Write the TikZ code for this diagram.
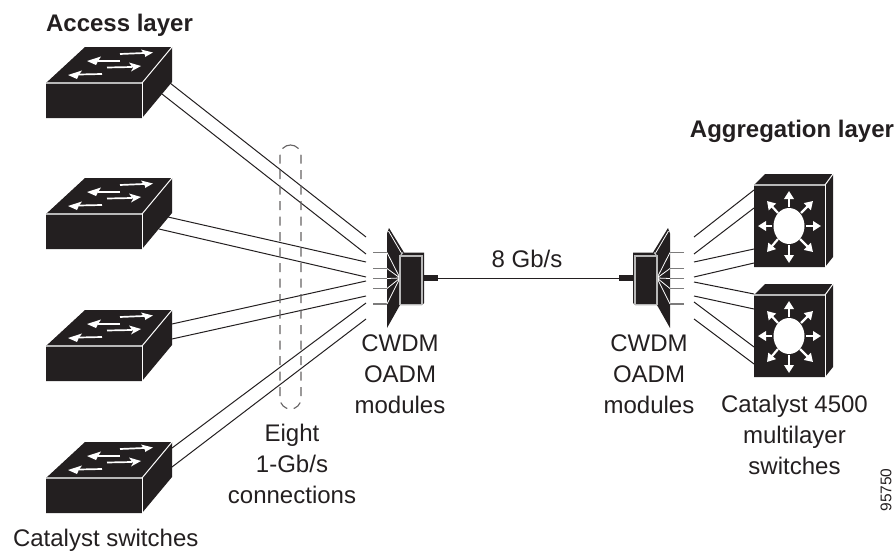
\documentclass[tikz,border=0pt]{standalone}
\usepackage{fontspec}
\setmainfont{Liberation Sans}
\usetikzlibrary{arrows.meta}
\definecolor{ink}{HTML}{231F20}
\definecolor{edge}{HTML}{B8B8B8}
\tikzset{
  x=1pt,y=-1pt,
  link/.style={draw=ink,line width=1pt},
  lbl/.style={inner sep=0pt,outer sep=0pt,text=ink,align=center,font=\fontsize{24}{31}\selectfont},
  blbl/.style={lbl,font=\fontsize{24}{28}\selectfont\bfseries},
  whiteline/.style={draw=white,line width=1pt},
  arrowshaft/.style={draw=white,line width=1.7pt},
  switchicon/.pic={
    \fill[ink] (0,0) -- (39,-36) -- (126,-36) -- (126,-1) -- (96,35) -- (0,35) -- cycle;
    \draw[edge,line width=1.1pt] (0,0) -- (96,0);
    \draw[whiteline] (96,0) -- (126,-36);
    \draw[whiteline] (96,0) -- (96,35);
    \draw[arrowshaft] (74,-29) -- (98,-30);
    \fill[white] (107,-30.5) -- (95,-33.5) -- (99,-28) -- (99,-26) -- cycle;
    \draw[arrowshaft] (74,-22) -- (52,-22);
    \fill[white] (41,-22) -- (55,-26.5) -- (52,-22) -- (50,-18) -- cycle;
    \draw[arrowshaft] (61,-15.5) -- (86,-16);
    \fill[white] (95,-17) -- (83,-20.5) -- (87,-15) -- (85,-11.5) -- cycle;
    \draw[arrowshaft] (56,-9) -- (33,-8.5);
    \fill[white] (22,-8) -- (36,-12.5) -- (33,-8.5) -- (31,-4) -- cycle;
  },
  moduleicon/.pic={
    \draw[edge!60!ink,line width=1.3pt] (-14,-25.5) -- (0,-25.5) (-14,-9.5) -- (0,-9.5) (-14,0.5) -- (0,0.5) (-14,10.5) -- (0,10.5) (-14,26) -- (0,26);
    \fill[ink] (0,-44.5) -- (2,-50) -- (17,-25.5) -- (37,-25.5) -- (37,25) -- (35,27) -- (13,27) -- (0,50) -- cycle;
    \fill[ink] (37,-3) rectangle (51,3);
    \draw[whiteline,line width=.8pt] (1.5,-47) -- (15,-24);
    \draw[whiteline,line width=.8pt] (0,-25.5) -- (13,0) (0,-9.5) -- (13,0) (0,.5) -- (13,0) (0,10.5) -- (13,0) (0,26) -- (13,0);
    \draw[edge,line width=1.1pt] (13,-22) rectangle (35,26.5);
    \draw[edge,line width=1.1pt] (13,-22) -- (16,-25.5);
  },
  routericon/.pic={
    \fill[ink] (0,0) -- (11,-11) -- (79,-11) -- (79,72) -- (71,82) -- (0,82) -- cycle;
    \draw[edge,line width=1.1pt] (0,0) -- (71,0);
    \draw[whiteline] (71,0) -- (79,-11);
    \draw[whiteline] (71,0) -- (71,82);
    \fill[white] (35,41) ellipse (15.5 and 18);
    \foreach \sx/\sy/\tx/\ty in {35/22/35/6, 35/60/35/78, 18/41/4/41, 52/41/67/41, 24/28/13/16, 47/28/59/16, 24/54/13/67, 46/54/59/67}{
      \draw[white,line width=2.2pt,-{Triangle[length=8pt,width=9.5pt]}] (\sx,\sy) -- (\tx,\ty);
    }
  },
}
\begin{document}
\begin{tikzpicture}
\useasboundingbox (0,0) rectangle (895,554);
\foreach \n/\x/\y in {
  a1/170/83, a2/162/94, a3/168/217, a4/159/229, a5/172/324, a6/172/339, a7/172/448, a8/172/467,
  b1/366/237, b2/366/254, b3/366/262, b4/366/277, b5/366/281, b6/366/296, b7/366/303, b8/366/319,
  c1/694/237, c2/694/254, c3/694/262, c4/694/277, c5/694/282, c6/694/296, c7/694/302, c8/694/319,
  d1/754/190, d2/754/208, d3/754/249, d4/754/263, d5/754/294, d6/754/309, d7/754/347, d8/754/364,
  trunkL/438/278, trunkR/620/278}
  {\coordinate (\n) at (\x,\y);}
\foreach \i in {1,...,8}{
  \draw[link] (a\i) -- (b\i);
  \draw[link] (c\i) -- (d\i);
}
\draw[link] (trunkL) -- (trunkR);
\pic (swA) at (46,83) {switchicon};
\pic (swB) at (46,214) {switchicon};
\pic (swC) at (46,346) {switchicon};
\pic (swD) at (46,478) {switchicon};
\pic (modL) at (387,278) {moduleicon};
\pic[xscale=-1] (modR) at (670,278) {moduleicon};
\pic (rtA) at (754,185) {routericon};
\pic (rtB) at (754,295) {routericon};
\node[draw=ink!70,line width=1.1pt,dash pattern=on 9pt off 6.5pt,rounded corners=10.5pt,minimum width=21pt,minimum height=264pt,inner sep=0pt] (bundle) at (290.5,277) {};
\node[blbl] (accessT) at (119.5,25) {Access layer};
\node[blbl] (aggrT) at (792,131) {Aggregation layer};
\node[lbl] (speed) at (527,259) {8 Gb/s};
\node[lbl] (cwdmL) at (400,374) {CWDM\\OADM\\modules};
\node[lbl] (cwdmR) at (649,374) {CWDM\\OADM\\modules};
\node[lbl] (cat4500) at (794.5,435) {Catalyst 4500\\multilayer\\switches};
\node[lbl] (eight) at (292,464) {Eight\\1-Gb/s\\connections};
\node[lbl] (catsw) at (105.7,540) {Catalyst switches};
\node[lbl,font=\fontsize{15.5}{18}\selectfont,rotate=90] (figid) at (886,490) {95750};
\end{tikzpicture}
\end{document}
